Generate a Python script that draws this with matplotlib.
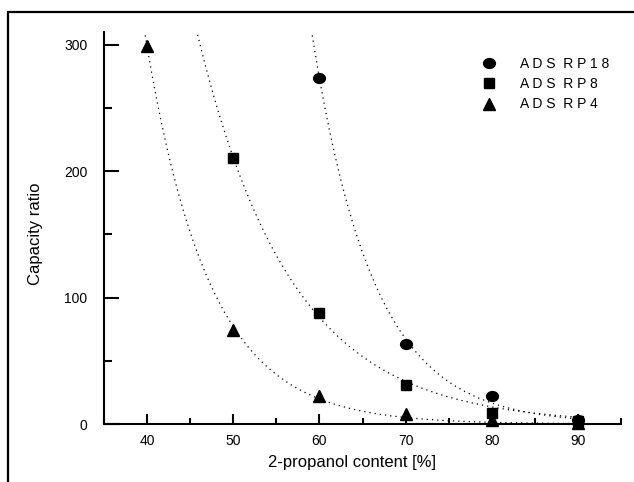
import numpy as np
import matplotlib
matplotlib.use('Agg')
import matplotlib.pyplot as plt
from matplotlib.path import Path
from matplotlib.transforms import Affine2D
from matplotlib.patches import Rectangle
from matplotlib.ticker import MultipleLocator

plt.rcParams['font.family'] = ['Liberation Sans', 'DejaVu Sans']

# 2-propanol content [%]
x_rp18 = [60, 70, 80, 90]
k_rp18 = [274, 63, 22, 3.5]
x_rp8 = [50, 60, 70, 80, 90]
k_rp8 = [210, 87.5, 31, 9, 2.5]
x_rp4 = [40, 50, 60, 70, 80, 90]
k_rp4 = [299, 74, 22, 8, 3, 1]

labels = ['A D S  R P 1 8', 'A D S  R P 8', 'A D S  R P 4']

ellipse = Path.unit_circle().transformed(Affine2D().scale(1.2, 1.0))

fig = plt.figure(figsize=(6.34, 4.82), dpi=100)
ax = fig.add_axes([104/634, 1 - 424/482, (621 - 104)/634, (424 - 32)/482])

# outer frame (only top and left edges inside picture)
fig.patches.append(Rectangle((8/634, -0.5), 2.0, 1 - 12/482 + 0.5,
                             transform=fig.transFigure, fill=False,
                             lw=1.6, ec='black'))


def exp_fit(xs, ys):
    xs = np.asarray(xs, float)
    ys = np.asarray(ys, float)
    b, a = np.polyfit(xs, np.log(ys), 1, w=ys)
    xx = np.linspace(35, 90, 300)
    return xx, np.exp(a + b * xx)


series = [(x_rp18, k_rp18, ellipse), (x_rp8, k_rp8, 's'), (x_rp4, k_rp4, '^')]
sizes = [8.5, 7.5, 8.5]
for (xs, ys, m), lab, ms in zip(series, labels, sizes):
    xx, yy = exp_fit(xs, ys)
    ax.plot(xx, yy, color='black', lw=0.9, dashes=(1, 3.2))
    ax.plot(xs, ys, linestyle='none', marker=m, ms=ms, color='black',
            clip_on=False, label=lab, zorder=3)

ax.set_xlim(35, 95)
ax.set_ylim(0, 310)
ax.xaxis.set_major_locator(MultipleLocator(10))
ax.xaxis.set_minor_locator(MultipleLocator(5))
ax.yaxis.set_major_locator(MultipleLocator(100))
ax.yaxis.set_minor_locator(MultipleLocator(50))
ax.set_xticks([40, 50, 60, 70, 80, 90])

for s in ['top', 'right']:
    ax.spines[s].set_visible(False)
for s in ['left', 'bottom']:
    ax.spines[s].set_linewidth(1.5)

ax.tick_params(axis='x', which='major', direction='in', length=7, width=1.5,
               labelsize=10, pad=7)
ax.tick_params(axis='x', which='minor', direction='in', length=4, width=1.5)
ax.tick_params(axis='y', which='major', direction='in', length=11, width=1.5,
               labelsize=10, pad=12)
ax.tick_params(axis='y', which='minor', direction='in', length=6, width=1.5)

ax.set_xlabel('2-propanol content [%]', fontsize=12, labelpad=5.5)
ax.set_ylabel('Capacity ratio', fontsize=12, labelpad=15)
ax.xaxis.label.set_x(0.48)
ax.yaxis.label.set_y(0.485)

ax.legend(loc='upper left', bbox_to_anchor=(474/634, 1 - 50/482),
          bbox_transform=fig.transFigure, frameon=False, fontsize=10,
          handlelength=1.2, handletextpad=1.6, labelspacing=0.45,
          borderpad=0, numpoints=1)

fig.savefig('out.png', dpi=100)
